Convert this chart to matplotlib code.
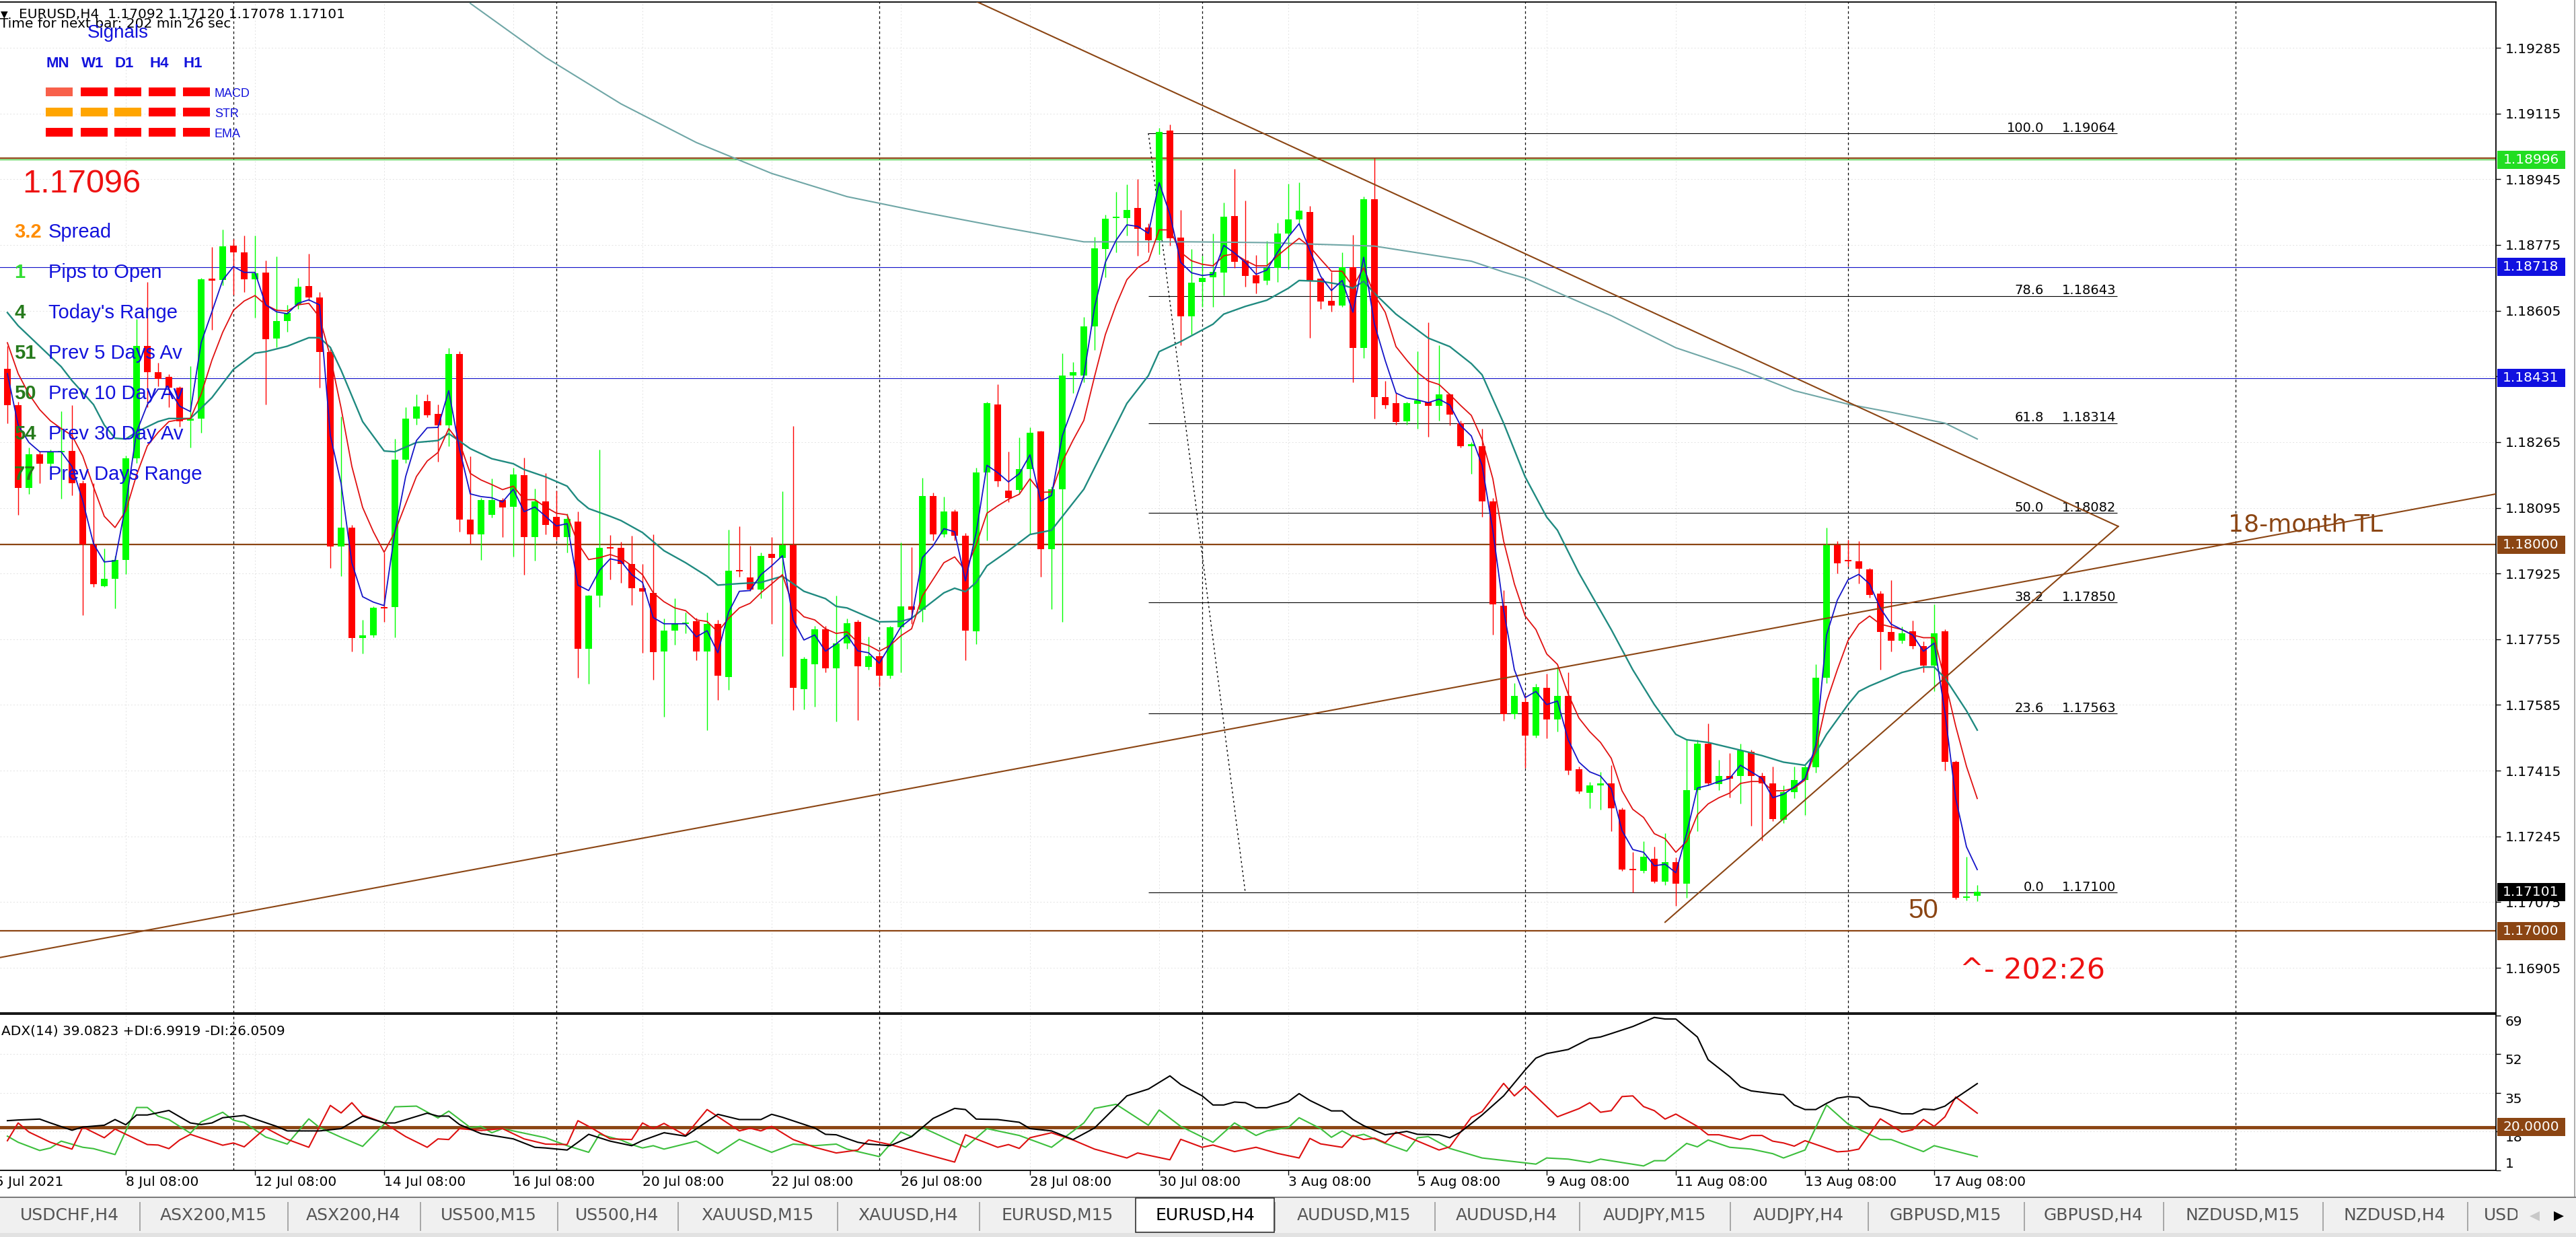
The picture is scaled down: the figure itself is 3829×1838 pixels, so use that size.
import numpy as np
import matplotlib
matplotlib.use("Agg")
import matplotlib.pyplot as plt
import matplotlib.transforms as mtransforms
from matplotlib.patches import Rectangle

W, H, DPI = 3829, 1838, 100

# ---------------- data ----------------
# candle prices are kept as pips above 1.17000 (EURUSD H4, 184 bars)
BASE = 1.17
PIP = 0.0001

open_pips = [
    145.4, 136.0, 114.7, 123.3, 120.9, 123.8, 124.2, 115.8, 100.1, 89.3,
    91.1, 96.0, 122.3, 151.3, 144.5, 143.3, 140.6, 132.0, 132.6, 168.6,
    168.4, 177.3, 175.5, 168.6, 170.4, 153.3, 157.8, 162.0, 166.8, 163.9,
    149.8, 99.5, 104.4, 75.8, 76.5, 83.8, 83.8, 122.0, 132.6, 137.1,
    133.8, 130.9, 149.3, 106.4, 102.7, 107.6, 111.5, 109.7, 118.0, 101.9,
    111.2, 107.2, 102.0, 106.0, 73.1, 86.7, 99.2, 99.2, 95.0, 88.7,
    87.5, 72.4, 77.8, 79.4, 80.1, 72.4, 79.5, 65.8, 93.2, 91.4,
    88.3, 97.6, 96.5, 99.9, 62.5, 69.0, 78.0, 67.9, 74.5, 80.0,
    68.3, 71.2, 66.1, 78.6, 84.0, 83.1, 112.5, 102.7, 108.6, 102.3,
    77.6, 118.6, 136.2, 114.0, 114.1, 119.5, 129.3, 98.8, 114.3, 143.7,
    143.7, 156.4, 176.5, 184.4, 184.5, 187.0, 182.0, 178.7, 207.0, 179.4,
    159.0, 168.0, 169.1, 170.3, 185.0, 173.4, 169.6, 168.3, 171.6, 180.5,
    184.1, 186.0, 168.7, 163.0, 161.9, 171.8, 150.8, 189.4, 138.1, 136.5,
    131.9, 136.4, 137.0, 135.9, 138.8, 131.4, 125.5, 125.5, 111.2, 84.2,
    56.2, 59.2, 50.6, 63.0, 54.7, 60.9, 41.9, 35.7, 37.7, 38.2,
    31.5, 16.0, 15.5, 18.7, 12.8, 17.9, 12.3, 36.4, 48.4, 38.1,
    40.1, 40.1, 46.4, 40.1, 38.2, 28.8, 35.9, 39.1, 42.3, 65.5,
    99.8, 95.8, 95.6, 93.5, 87.3, 77.3, 75.2, 77.6, 73.8, 68.7,
    77.6, 43.7, 8.6, 9.2]

high_pips = [
    151.3, 137.0, 125.0, 124.0, 124.5, 134.4, 136.0, 116.5, 115.8, 99.0,
    97.0, 123.0, 158.4, 168.0, 147.0, 144.0, 141.0, 146.1, 169.0, 177.0,
    181.5, 179.0, 180.0, 179.9, 173.5, 174.6, 162.0, 169.0, 175.3, 165.3,
    151.0, 133.1, 105.0, 80.5, 84.0, 98.0, 127.3, 135.5, 138.9, 138.9,
    136.2, 150.9, 150.0, 122.9, 112.0, 117.0, 112.0, 119.8, 122.5, 114.5,
    118.4, 113.9, 108.0, 108.5, 87.0, 124.6, 102.5, 100.7, 102.3, 94.9,
    102.7, 80.9, 86.0, 82.5, 81.0, 82.5, 80.5, 103.8, 104.8, 99.6,
    98.0, 101.9, 113.7, 130.6, 71.0, 79.0, 79.0, 86.7, 80.9, 80.5,
    76.1, 72.0, 79.0, 100.5, 99.4, 117.3, 113.4, 112.4, 109.0, 103.0,
    119.8, 136.9, 141.4, 124.0, 127.7, 130.3, 129.5, 115.0, 149.4, 147.2,
    158.9, 179.6, 185.4, 191.2, 193.1, 194.5, 183.0, 207.8, 208.7, 186.5,
    176.5, 174.7, 180.5, 188.5, 197.1, 188.9, 174.9, 178.5, 183.2, 193.4,
    193.6, 187.6, 169.0, 170.5, 175.6, 180.1, 190.0, 200.0, 142.3, 139.2,
    137.0, 149.9, 157.4, 151.5, 139.0, 132.0, 126.5, 129.9, 112.0, 88.1,
    64.1, 61.0, 64.0, 66.5, 68.3, 66.9, 42.5, 38.5, 41.2, 42.9,
    32.0, 20.4, 23.2, 21.8, 25.3, 19.0, 49.5, 49.5, 53.7, 44.3,
    46.1, 48.4, 47.0, 41.0, 42.6, 37.7, 42.6, 43.0, 69.0, 104.4,
    100.9, 101.2, 100.9, 94.0, 88.0, 90.8, 78.7, 80.4, 75.0, 84.5,
    78.0, 44.2, 19.3, 12.0]

low_pips = [
    131.4, 107.6, 113.0, 115.8, 120.0, 111.8, 112.7, 81.8, 89.1, 89.0,
    83.4, 92.4, 121.0, 135.5, 141.0, 135.5, 130.5, 125.1, 129.0, 155.6,
    167.0, 164.6, 165.3, 158.6, 136.2, 151.0, 155.0, 161.0, 163.0, 140.6,
    94.0, 91.8, 72.3, 71.8, 76.0, 80.0, 76.0, 121.0, 131.0, 133.0,
    121.4, 125.5, 103.3, 100.2, 96.0, 107.0, 102.0, 96.8, 92.2, 95.9,
    102.7, 101.1, 98.0, 65.5, 64.0, 83.8, 91.0, 90.1, 84.4, 72.0,
    65.0, 55.4, 74.1, 77.0, 70.0, 52.0, 59.8, 62.4, 91.6, 88.0,
    86.0, 79.4, 71.2, 57.2, 57.4, 58.0, 67.0, 54.3, 73.0, 54.6,
    67.7, 63.2, 65.4, 67.0, 79.4, 80.0, 101.0, 102.0, 101.0, 70.0,
    74.3, 101.0, 115.0, 111.0, 113.0, 102.8, 91.7, 83.3, 80.0, 139.2,
    142.0, 150.3, 169.2, 175.6, 180.0, 174.7, 175.6, 175.0, 177.4, 151.6,
    154.3, 161.4, 161.4, 164.5, 171.6, 166.7, 165.0, 167.2, 168.0, 171.2,
    183.0, 153.4, 161.0, 160.3, 161.4, 141.9, 148.3, 132.6, 135.2, 131.0,
    131.0, 129.9, 127.8, 132.1, 130.8, 125.0, 118.3, 107.2, 76.6, 54.4,
    55.0, 42.2, 50.0, 49.8, 51.6, 40.5, 35.6, 31.8, 31.5, 25.9,
    15.5, 10.0, 15.0, 12.4, 12.0, 6.5, 8.6, 25.9, 37.7, 36.4,
    34.5, 32.9, 27.3, 23.4, 28.5, 28.0, 34.3, 30.1, 41.0, 64.1,
    92.6, 94.2, 90.0, 86.3, 67.6, 72.4, 74.5, 73.0, 66.9, 62.0,
    41.5, 8.2, 8.0, 7.8]

close_pips = [
    136.0, 114.7, 123.3, 120.9, 123.8, 124.2, 115.8, 100.1, 89.8, 91.1,
    96.0, 122.3, 151.3, 144.5, 142.9, 140.6, 131.8, 132.6, 168.6, 168.3,
    177.2, 175.5, 168.6, 170.2, 153.1, 157.8, 159.9, 166.7, 163.9, 149.8,
    99.5, 104.4, 75.8, 76.5, 83.6, 83.4, 122.0, 132.6, 135.7, 133.5,
    130.9, 149.3, 106.4, 102.7, 111.5, 111.5, 109.6, 118.2, 101.9, 111.2,
    105.0, 102.0, 106.6, 73.1, 86.7, 99.2, 99.0, 94.9, 88.7, 87.9,
    72.2, 77.8, 79.4, 79.8, 72.4, 79.5, 66.0, 93.2, 93.0, 88.3,
    97.1, 96.6, 99.9, 62.9, 70.4, 78.0, 67.9, 74.5, 79.7, 68.5,
    71.2, 66.1, 78.6, 84.0, 83.1, 112.5, 102.7, 108.6, 102.3, 77.8,
    118.6, 136.5, 116.4, 112.0, 119.5, 129.0, 98.8, 114.3, 143.7, 144.5,
    156.4, 176.7, 184.3, 184.7, 186.6, 181.7, 178.7, 206.7, 179.2, 159.0,
    167.8, 169.0, 170.6, 184.8, 173.2, 169.4, 167.5, 171.6, 180.5, 184.1,
    186.3, 168.3, 162.9, 161.9, 171.8, 150.9, 189.4, 138.1, 136.1, 131.7,
    136.5, 137.3, 135.8, 138.8, 133.7, 125.4, 125.8, 111.2, 84.6, 56.2,
    60.9, 50.6, 63.1, 54.7, 60.9, 41.6, 36.1, 37.7, 38.2, 31.8,
    16.0, 15.7, 19.3, 12.8, 17.9, 12.3, 36.4, 48.4, 38.2, 40.1,
    39.5, 46.8, 40.1, 38.2, 29.0, 35.9, 39.1, 42.3, 65.5, 99.8,
    95.1, 95.6, 93.7, 87.0, 77.3, 75.2, 77.0, 73.8, 68.7, 77.0,
    43.7, 8.6, 8.9, 10.1]

# moving averages (pips above 1.17000)
ma_fast_pips = [
    144.2, 130.9, 126.4, 124.0, 124.0, 124.0, 120.2, 111.3, 100.2, 95.5,
    95.8, 110.4, 129.1, 136.2, 140.2, 140.2, 135.8, 134.4, 152.2, 160.2,
    168.4, 171.9, 170.4, 170.4, 162.0, 160.2, 159.7, 162.4, 163.3, 162.0,
    128.2, 115.8, 95.3, 86.5, 85.1, 84.2, 103.3, 117.6, 126.9, 130.2,
    130.3, 139.8, 124.7, 113.1, 112.4, 112.1, 111.0, 114.3, 108.5, 109.7,
    107.3, 104.8, 105.4, 89.5, 88.1, 93.3, 96.3, 95.7, 92.2, 90.2,
    81.1, 79.5, 79.5, 79.5, 76.1, 77.7, 72.0, 82.5, 87.9, 88.1,
    92.2, 94.5, 97.1, 80.5, 75.3, 76.6, 72.4, 74.3, 76.6, 72.5,
    72.0, 69.3, 73.9, 78.7, 80.9, 96.6, 99.7, 104.1, 103.3, 90.6,
    103.1, 120.5, 118.6, 116.2, 118.3, 123.2, 111.2, 112.7, 128.1, 135.7,
    143.7, 161.4, 173.0, 178.7, 182.7, 182.3, 180.5, 193.6, 185.4, 173.0,
    170.3, 169.6, 169.9, 177.4, 175.4, 173.0, 169.9, 171.0, 175.6, 179.6,
    183.0, 176.1, 169.4, 165.7, 168.3, 160.1, 174.3, 157.0, 147.6, 139.2,
    137.9, 137.4, 136.7, 137.6, 136.1, 130.8, 128.1, 120.5, 103.6, 83.0,
    67.6, 60.4, 62.0, 58.6, 59.5, 49.5, 43.7, 41.2, 40.1, 36.8,
    26.0, 21.1, 20.4, 16.9, 17.3, 15.1, 25.2, 37.0, 37.7, 38.7,
    39.5, 42.9, 41.2, 39.5, 34.5, 35.4, 37.3, 39.5, 48.1, 76.6,
    85.6, 90.9, 92.3, 89.8, 83.5, 79.4, 78.0, 76.6, 72.4, 74.5,
    56.5, 34.3, 21.8, 15.9]

ma_mid_pips = [
    152.2, 144.2, 138.9, 134.9, 132.0, 130.0, 128.2, 122.9, 114.9, 107.3,
    104.4, 108.7, 118.0, 125.5, 129.0, 131.8, 132.3, 132.6, 138.9, 147.7,
    154.9, 160.6, 163.0, 164.4, 162.0, 160.6, 160.4, 162.0, 162.4, 158.8,
    148.6, 135.3, 120.2, 109.6, 103.3, 98.0, 103.3, 110.5, 117.6, 121.6,
    123.8, 130.0, 126.4, 118.4, 116.7, 115.5, 114.2, 115.1, 111.6, 111.6,
    109.7, 108.1, 107.7, 100.3, 96.1, 96.6, 97.4, 96.5, 94.5, 92.2,
    87.5, 85.2, 83.6, 82.9, 80.5, 80.1, 77.4, 80.9, 83.6, 84.8,
    87.5, 89.8, 92.2, 84.0, 81.3, 80.5, 78.2, 77.0, 77.4, 74.7,
    73.9, 72.4, 73.9, 76.4, 78.2, 86.7, 91.0, 95.3, 96.8, 93.3,
    99.9, 108.1, 110.0, 111.7, 113.0, 117.0, 113.5, 113.6, 121.4, 127.0,
    132.1, 143.5, 154.3, 162.0, 168.5, 171.6, 173.4, 181.4, 181.4, 175.6,
    173.4, 172.5, 172.1, 174.7, 175.2, 173.5, 172.1, 172.1, 174.7, 177.0,
    179.2, 177.0, 173.8, 170.7, 170.7, 166.7, 171.6, 164.5, 160.1, 151.2,
    147.7, 144.5, 142.3, 141.4, 138.8, 136.0, 133.4, 127.2, 117.0, 100.9,
    89.8, 81.5, 78.0, 71.7, 69.0, 61.3, 55.1, 51.6, 48.8, 44.7,
    36.3, 31.5, 29.4, 25.2, 23.9, 20.4, 23.2, 30.1, 32.9, 34.5,
    35.7, 38.2, 38.7, 38.7, 36.3, 36.3, 37.0, 39.1, 46.8, 59.3,
    67.6, 75.2, 79.4, 81.5, 79.4, 78.7, 78.0, 76.6, 75.9, 75.9,
    64.8, 53.0, 42.6, 34.3]

ma_slow_bars = [0, 1, 3, 5, 6, 8, 9, 10, 11, 12, 14, 15, 17, 19, 21, 23, 24, 26, 28, 29,
                30, 31, 33, 35, 36, 38, 40, 41, 43, 45, 47, 48, 50, 52, 53, 54, 56, 57, 59, 61,
                63, 65, 66, 68, 70, 71, 72, 74, 76, 77, 78, 81, 83, 84, 85, 87, 88, 89, 90, 91,
                93, 95, 97, 100, 104, 106, 107, 109, 112, 113, 115, 117, 119, 120, 122, 124, 125, 126, 127, 129,
                132, 134, 136, 137, 139, 141, 143, 144, 146, 149, 151, 153, 155, 156, 158, 161, 163, 165, 167, 168,
                169, 171, 172, 173, 176, 178, 179, 180, 182, 183]
ma_slow_pips = [160.0, 156.6, 151.3, 146.0, 142.4, 136.2, 130.9, 127.5, 127.3, 129.1, 131.8, 132.6, 132.6, 138.0, 145.3, 149.5, 149.9, 151.3, 153.5, 153.5,
                151.0, 145.1, 131.8, 124.2, 124.0, 126.4, 126.9, 128.7, 124.8, 122.2, 120.9, 119.4, 117.5, 115.1, 111.6, 109.3, 107.3, 106.2, 103.1, 98.4,
                95.3, 91.8, 89.5, 89.9, 90.2, 91.0, 91.8, 87.9, 86.0, 84.0, 83.6, 80.0, 80.1, 80.9, 83.2, 87.5, 88.7, 87.8, 90.2, 94.5,
                98.4, 102.6, 103.7, 114.3, 136.5, 143.7, 149.9, 152.5, 157.0, 159.6, 161.6, 163.2, 166.3, 168.3, 168.1, 167.2, 166.3, 168.1, 165.0, 159.6,
                153.4, 151.2, 146.8, 143.9, 131.4, 117.5, 107.1, 103.7, 92.6, 78.0, 67.6, 58.6, 50.9, 49.5, 48.8, 46.8, 45.4, 43.7, 42.9, 46.1,
                50.9, 58.6, 62.0, 63.4, 66.9, 68.3, 68.3, 65.5, 57.0, 52.0]

ma_long_bars = [43, 50, 57, 64, 71, 78, 85, 92, 100, 110, 117, 127, 136, 139, 141, 145, 149, 155, 161, 166, 171, 175, 180, 183]
ma_long_pips = [240.0, 226.0, 214.0, 204.0, 196.0, 190.0, 186.0, 182.3, 178.3, 178.3, 178.1, 177.2, 173.3, 170.5, 168.9, 164.0,
                159.2, 150.9, 145.3, 139.8, 136.3, 134.2, 131.4, 127.3]

# horizontal levels
round_levels = [1.19000, 1.18000, 1.17000]
bid_level = 1.18996
blue_levels = [1.18718, 1.18431]
last_price = 1.17101

# fibonacci retracement
fib_pct = [100.0, 78.6, 61.8, 50.0, 38.2, 23.6, 0.0]
fib_price = [1.19064, 1.18643, 1.18314, 1.18082, 1.17850, 1.17563, 1.17100]
fib_start_bar, fib_end_bar = 106, 196
fib_anchor_bars = [106, 115]

# trendlines: (bar, price) endpoints
tl_down = [(90.0, 1.19405), (196.1, 1.18047)]
tl_long = [(-1.0, 1.16930), (232.0, 1.18135)]
tl_short = [(154.0, 1.17023), (196.1, 1.18047)]

# ADX(14) panel, (bar, value) vertices
adx_bars = [0, 1, 3, 4, 6, 7, 9, 10, 11, 12, 13, 15, 17, 18, 19, 20, 22, 25, 26, 29,
            31, 33, 35, 36, 39, 40, 41, 42, 44, 47, 49, 50, 52, 53, 54, 56, 58, 59, 61, 63,
            66, 68, 70, 71, 72, 75, 76, 77, 79, 80, 82, 84, 86, 88, 89, 90, 92, 94, 95, 97,
            99, 101, 104, 106, 108, 109, 111, 112, 113, 114, 115, 116, 117, 119, 120, 121, 123, 124, 125, 126,
            128, 129, 130, 131, 133, 134, 135, 137, 139, 141, 142, 143, 145, 147, 148, 149, 151, 153, 154, 155,
            157, 158, 160, 161, 162, 164, 165, 166, 167, 168, 169, 170, 171, 172, 173, 174, 176, 177, 178, 179,
            180, 181, 183]
adx_vals = [22.8, 23.1, 23.5, 21.8, 18.6, 20.0, 20.8, 23.3, 21.0, 25.3, 25.3, 27.3, 21.8, 21.1, 21.8, 24.1, 25.1, 20.3, 18.3, 18.3,
            19.3, 24.8, 21.8, 21.8, 26.1, 24.8, 24.8, 21.1, 17.1, 14.8, 11.1, 10.8, 9.9, 13.3, 16.8, 13.8, 11.8, 14.1, 17.5, 16.0,
            25.6, 23.3, 23.3, 25.6, 24.3, 19.6, 16.8, 16.6, 13.3, 12.5, 11.8, 15.8, 23.8, 28.2, 27.7, 23.5, 23.3, 22.1, 19.3, 18.3,
            14.5, 19.6, 33.7, 36.7, 42.5, 38.7, 33.7, 29.7, 29.7, 31.0, 30.7, 28.5, 28.5, 31.2, 34.7, 31.7, 27.1, 27.1, 23.3, 20.6,
            16.6, 17.3, 18.1, 16.8, 16.6, 15.3, 17.8, 25.3, 33.7, 45.1, 50.3, 52.3, 54.1, 58.9, 59.6, 61.1, 64.2, 68.2, 67.5, 67.5,
            59.6, 49.6, 42.2, 37.7, 35.9, 34.7, 34.2, 29.7, 27.7, 27.7, 30.4, 32.7, 33.4, 33.0, 29.2, 28.4, 25.8, 25.8, 27.9, 27.6,
            29.2, 32.7, 39.1]

plus_di_bars = [0, 1, 3, 4, 5, 7, 8, 10, 12, 13, 14, 15, 17, 18, 20, 21, 22, 24, 26, 28,
                29, 31, 33, 35, 36, 38, 40, 41, 43, 44, 45, 46, 48, 50, 52, 54, 55, 57, 58, 59,
                60, 61, 64, 66, 68, 71, 73, 75, 77, 78, 81, 83, 84, 85, 89, 91, 94, 97, 100, 101,
                103, 106, 107, 109, 112, 114, 116, 117, 119, 120, 122, 123, 124, 125, 126, 128, 130, 131, 132, 134,
                137, 142, 143, 145, 147, 148, 150, 152, 153, 154, 156, 157, 158, 160, 162, 164, 165, 167, 169, 171,
                174, 175, 178, 179, 183]
plus_di_vals = [16.0, 13.3, 9.7, 10.8, 13.8, 11.1, 10.5, 7.9, 28.6, 28.6, 24.8, 23.3, 17.3, 22.3, 26.5, 23.0, 22.0, 15.6, 12.5, 23.6,
                19.8, 15.5, 11.5, 21.3, 28.9, 29.2, 24.0, 27.0, 19.8, 20.3, 17.5, 19.3, 17.3, 15.3, 11.8, 8.9, 16.8, 14.3, 12.3, 10.8,
                11.8, 10.3, 13.8, 8.4, 14.6, 8.9, 12.5, 11.8, 12.5, 10.3, 7.0, 17.8, 15.8, 19.8, 11.1, 19.3, 16.3, 11.1, 21.8, 28.2,
                30.0, 20.8, 27.5, 20.3, 13.3, 21.8, 16.3, 18.3, 19.8, 24.1, 19.3, 15.5, 18.3, 15.8, 16.8, 12.8, 9.4, 15.3, 15.8, 10.6,
                6.4, 3.7, 6.4, 5.9, 4.4, 5.9, 4.4, 2.9, 5.2, 5.2, 12.8, 11.3, 14.3, 11.1, 10.3, 8.3, 6.4, 9.9, 29.7, 21.3,
                14.5, 14.5, 9.2, 11.8, 7.0]

minus_di_bars = [0, 1, 2, 4, 6, 7, 9, 10, 13, 14, 15, 16, 17, 20, 21, 22, 24, 26, 28, 30,
                 31, 32, 33, 35, 37, 39, 40, 41, 42, 44, 46, 48, 50, 52, 53, 54, 56, 58, 59, 60,
                 61, 63, 65, 68, 69, 70, 71, 73, 74, 75, 77, 79, 80, 82, 88, 89, 92, 93, 94, 95,
                 97, 99, 101, 104, 105, 108, 109, 111, 112, 114, 116, 118, 120, 121, 122, 124, 125, 126, 127, 128,
                 129, 133, 134, 136, 137, 139, 140, 141, 144, 146, 147, 148, 149, 150, 151, 152, 153, 154, 155, 157,
                 158, 159, 161, 162, 163, 164, 165, 166, 167, 170, 171, 172, 174, 176, 177, 178, 179, 180, 181, 183]
minus_di_vals = [14.0, 21.8, 17.8, 13.3, 10.3, 20.0, 15.3, 19.1, 12.3, 12.1, 10.5, 14.3, 16.8, 12.0, 13.0, 11.3, 19.6, 14.6, 11.1, 29.5,
                 26.2, 30.7, 25.3, 21.8, 15.8, 11.1, 14.8, 14.5, 19.3, 18.5, 19.3, 14.8, 12.5, 12.3, 22.8, 20.3, 14.8, 14.5, 21.8, 19.3,
                 21.6, 16.3, 27.7, 18.3, 19.5, 18.3, 20.3, 14.5, 12.8, 11.1, 8.6, 9.9, 14.3, 12.3, 4.6, 16.6, 11.1, 12.3, 10.6, 15.3,
                 17.5, 14.3, 10.3, 6.4, 8.6, 5.6, 14.6, 11.1, 12.1, 9.2, 11.1, 8.4, 6.4, 15.0, 12.6, 11.1, 16.3, 14.5, 15.1, 13.1,
                 17.8, 9.9, 11.3, 24.3, 26.8, 39.2, 33.7, 38.0, 24.5, 28.1, 30.7, 26.5, 27.2, 33.4, 33.7, 29.0, 27.2, 23.5, 25.7, 20.3,
                 16.6, 16.6, 14.5, 16.3, 16.3, 13.8, 13.0, 11.6, 14.0, 9.1, 9.4, 10.3, 23.6, 17.8, 18.8, 23.3, 20.3, 24.5, 33.2, 26.1]

# time axis and grid
week_bars = [21, 51, 81, 111, 141, 171, 207]
time_bars = [11, 23, 35, 47, 59, 71, 83, 95, 107, 119, 131, 143, 155, 167, 179]
time_labels = ["8 Jul 08:00", "12 Jul 08:00", "14 Jul 08:00", "16 Jul 08:00", "20 Jul 08:00",
               "22 Jul 08:00", "26 Jul 08:00", "28 Jul 08:00", "30 Jul 08:00", "3 Aug 08:00",
               "5 Aug 08:00", "9 Aug 08:00", "11 Aug 08:00", "13 Aug 08:00", "17 Aug 08:00"]
price_ticks = [1.19285, 1.19115, 1.18945, 1.18775, 1.18605, 1.18435, 1.18265, 1.18095,
               1.17925, 1.17755, 1.17585, 1.17415, 1.17245, 1.17075, 1.16905]
adx_ticks = [69, 52, 35, 18, 1]

# info panel
info_values = ["3.2", "1", "4", "51", "50", "54", "77"]
info_labels = ["Spread", "Pips to Open", "Today's Range", "Prev 5 Days Av",
               "Prev 10 Day Av", "Prev 30 Day Av", "Prev Days Range"]
signal_frames = ["MN", "W1", "D1", "H4", "H1"]
signal_rows = ["MACD", "STR", "EMA"]
signal_colors = [["#f8604a", "#ff0000", "#ff0000", "#ff0000", "#ff0000"],
                 ["#ffa500", "#ffa500", "#ffa500", "#ff0000", "#ff0000"],
                 ["#ff0000", "#ff0000", "#ff0000", "#ff0000", "#ff0000"]]

tab_names = ["USDCHF,H4", "ASX200,M15", "ASX200,H4", "US500,M15", "US500,H4", "XAUUSD,M15",
             "XAUUSD,H4", "EURUSD,M15", "EURUSD,H4", "AUDUSD,M15", "AUDUSD,H4", "AUDJPY,M15",
             "AUDJPY,H4", "GBPUSD,M15", "GBPUSD,H4", "NZDUSD,M15", "NZDUSD,H4"]
tab_edges = [0, 207, 427, 624, 828, 1007, 1244, 1455, 1688, 1894, 2132, 2347, 2571,
             2776, 3008, 3215, 3452, 3667]
active_tab = "EURUSD,H4"

# ---------------- colours ----------------
BROWN = "#8b4513"
BLUE_TXT = "#1212dc"
UP, DOWN = "#00ff00", "#ff0000"


def fx(x):
    return x / W


def fy(y):
    return 1 - y / H


def rect_px(x, y_top, w, h, **kw):
    r = Rectangle((x, H - y_top - h), w, h, transform=mtransforms.IdentityTransform(), **kw)
    fig.add_artist(r)
    return r


plt.rcParams['font.family'] = 'DejaVu Sans'
fig = plt.figure(figsize=(W / DPI, H / DPI), dpi=DPI)
fig.patch.set_facecolor("white")

ax = fig.add_axes([0, fy(1505), fx(3710), (1505 - 3) / H])
adx = fig.add_axes([0, fy(1739), fx(3710), (1739 - 1507) / H])

XLIM = (-0.6875, 231.1875)

# ---------------- main chart ----------------
bars = np.arange(len(close_pips))
o = BASE + np.array(open_pips) * PIP
hi = BASE + np.array(high_pips) * PIP
lo = BASE + np.array(low_pips) * PIP
c = BASE + np.array(close_pips) * PIP
cols = np.where(c >= o, UP, DOWN)

for p in price_ticks:
    ax.axhline(p, color="#e2e2e2", lw=0.7, ls=(0, (2, 3)), zorder=0)
for b in time_bars:
    ax.axvline(b, color="#e2e2e2", lw=0.7, ls=(0, (2, 3)), zorder=0)
for b in week_bars:
    ax.axvline(b, color="black", lw=0.9, ls=(0, (3, 3)), zorder=1)

for lvl in round_levels:
    ax.axhline(lvl, color=BROWN, lw=1.6, zorder=1)
ax.axhline(bid_level, color="#33cc33", lw=0.9, zorder=1)
for lvl in blue_levels:
    ax.axhline(lvl, color="#1010c8", lw=0.8, zorder=1)

ax.hlines(fib_price, fib_start_bar, fib_end_bar, color="black", lw=0.8, zorder=1)
ax.plot(fib_anchor_bars, [fib_price[0], fib_price[-1]], color="black", lw=1.0,
        ls=(0, (2, 3)), zorder=1)
for pct, pr in zip(fib_pct, fib_price):
    ax.text(189.2, pr + 0.00004, f"{pct:.1f}", ha="right", va="baseline", fontsize=14, zorder=2)
    ax.text(195.9, pr + 0.00004, f"{pr:.5f}", ha="right", va="baseline", fontsize=14, zorder=2)

ax.vlines(bars, lo, hi, colors=cols, lw=1.0, zorder=3)
ax.bar(bars, np.maximum(np.abs(c - o), 0.00004), bottom=np.minimum(o, c), width=0.66,
       color=cols, linewidth=0, zorder=4)

ax.plot(ma_long_bars, BASE + np.array(ma_long_pips) * PIP, color="#6fa6a6", lw=1.5, zorder=5)
ax.plot(ma_slow_bars, BASE + np.array(ma_slow_pips) * PIP, color="#1f8a80", lw=1.7, zorder=5)
ax.plot(bars, BASE + np.array(ma_mid_pips) * PIP, color="#e01010", lw=1.3, zorder=6)
ax.plot(bars, BASE + np.array(ma_fast_pips) * PIP, color="#1414c8", lw=1.3, zorder=7)

for tl in (tl_down, tl_long, tl_short):
    ax.plot([tl[0][0], tl[1][0]], [tl[0][1], tl[1][1]], color=BROWN, lw=1.5, zorder=5)

ax.text(206.3, 1.18052, "18-month TL", color=BROWN, fontsize=26, ha="left", va="center", zorder=8)
ax.text(178.0, 1.17053, "50", color=BROWN, fontsize=29, family="Liberation Sans",
        ha="center", va="center", zorder=8)
ax.text(181.4, 1.16898, "^- 202:26", color="#ee1111", fontsize=31, ha="left", va="center", zorder=8)

ax.set_xlim(*XLIM)
ax.set_ylim(1.167884, 1.194034)
ax.yaxis.tick_right()
ax.set_yticks(price_ticks)
ax.set_yticklabels([f"{p:.5f}" for p in price_ticks])
ax.tick_params(axis="y", direction="out", length=5, width=1, pad=5, labelsize=14.5)
ax.set_xticks([])
ax.spines["left"].set_visible(False)
for s in ("top", "right", "bottom"):
    ax.spines[s].set_linewidth(1.3)

# ---------------- ADX panel ----------------
for v in [52, 35, 18]:
    adx.axhline(v, color="#e2e2e2", lw=0.7, ls=(0, (2, 3)), zorder=0)
for b in time_bars:
    adx.axvline(b, color="#e2e2e2", lw=0.7, ls=(0, (2, 3)), zorder=0)
for b in week_bars:
    adx.axvline(b, color="black", lw=0.9, ls=(0, (3, 3)), zorder=1)
adx.axhline(20, color=BROWN, lw=3.5, zorder=2)
adx.plot(plus_di_bars, plus_di_vals, color="#3cbf3c", lw=1.5, zorder=3)
adx.plot(minus_di_bars, minus_di_vals, color="#dd0f0f", lw=1.5, zorder=4)
adx.plot(adx_bars, adx_vals, color="black", lw=1.5, zorder=5)

adx.set_xlim(*XLIM)
adx.set_ylim(0.95, 69.6)
adx.yaxis.tick_right()
adx.set_yticks(adx_ticks)
adx.set_yticklabels([str(t) for t in adx_ticks])
adx.tick_params(axis="y", direction="out", length=5, width=1, pad=5, labelsize=14.5)
for lab, t in zip(adx.get_yticklabels(), adx_ticks):
    lab.set_va("bottom" if t == 1 else "top")
adx.set_xticks(time_bars)
adx.tick_params(axis="x", direction="out", length=5, width=1, labelbottom=False)
adx.spines["left"].set_visible(False)
for s in ("top", "right", "bottom"):
    adx.spines[s].set_linewidth(1.3)

tx = mtransforms.blended_transform_factory(adx.transData, fig.transFigure)
for b, t in zip(time_bars, time_labels):
    fig.text(b, fy(1747), t, transform=tx, ha="left", va="top", fontsize=14.5)
fig.text(fx(-7), fy(1747), "5 Jul 2021", ha="left", va="top", fontsize=14.5)
fig.text(fx(2), fy(1537), "ADX(14) 39.0823 +DI:6.9919 -DI:26.0509", fontsize=14.5, va="baseline")


# ---------------- axis value boxes ----------------
def value_box(axis, value, label, face):
    y = axis.transData.transform((0, value))[1]
    fig.add_artist(Rectangle((3712, y - 13.5), 101, 27, transform=mtransforms.IdentityTransform(),
                             facecolor=face, edgecolor="none", zorder=5))
    fig.text(3762 / W, y / H, label, color="white", fontsize=14.5, ha="center", va="center", zorder=6)


value_box(ax, bid_level, f"{bid_level:.5f}", "#22dd22")
for lvl in blue_levels:
    value_box(ax, lvl, f"{lvl:.5f}", "#1010e0")
value_box(ax, round_levels[1], f"{round_levels[1]:.5f}", BROWN)
value_box(ax, last_price, f"{last_price:.5f}", "black")
value_box(ax, round_levels[2], f"{round_levels[2]:.5f}", BROWN)
value_box(adx, 20, "20.0000", BROWN)

# ---------------- header & info panel ----------------
fig.text(fx(1), fy(25), "\u25bc", fontsize=10, va="baseline")
fig.text(fx(28), fy(27), "EURUSD,H4  1.17092 1.17120 1.17078 1.17101", fontsize=14.5, va="baseline")
fig.text(fx(0), fy(41), "Time for next bar: 202 min 26 sec", fontsize=14.5, va="baseline")
fig.text(fx(130), fy(56), "Signals", family="Liberation Sans", fontsize=20, color=BLUE_TXT, va="baseline")

col_x = [68, 120, 170, 221, 272]
row_y = [130, 160, 190]
for xx, name in zip(col_x, signal_frames):
    fig.text(fx(xx + 1), fy(100), name, family="Liberation Sans", fontweight="bold",
             fontsize=16, color=BLUE_TXT, va="baseline")
for r, (yy, name) in enumerate(zip(row_y, signal_rows)):
    for k, xx in enumerate(col_x):
        rect_px(xx, yy, 40, 13, facecolor=signal_colors[r][k], edgecolor="none")
    fig.text(fx(319), fy(yy + 14), name, family="Liberation Sans", fontsize=13,
             color=BLUE_TXT, va="baseline")

fig.text(fx(33), fy(286), "1.17096", family="Liberation Sans", fontsize=35,
         color="#ee1111", va="baseline")

val_colors = ["#ff8c00", "#33dd33", "#267a1c", "#267a1c", "#267a1c", "#267a1c", "#267a1c"]
for k, (v, lab) in enumerate(zip(info_values, info_labels)):
    yb = 353 + 60 * k
    fig.text(fx(21), fy(yb), v, family="Liberation Sans", fontweight="bold", fontsize=21,
             color=val_colors[k], va="baseline")
    fig.text(fx(72), fy(yb), lab, family="Liberation Sans", fontsize=21, color=BLUE_TXT,
             va="baseline")

# ---------------- tab bar ----------------
rect_px(3826, 0, 2, 1780, facecolor="#b0b0b0", edgecolor="none")
rect_px(0, 1779, W, 59, facecolor="#f0f0f0", edgecolor="none")
rect_px(0, 1778, W, 2, facecolor="#7a7a7a", edgecolor="none")
rect_px(0, 1832, W, 6, facecolor="#e2e2e2", edgecolor="none")
for e in tab_edges[1:]:
    rect_px(e, 1786, 1.5, 43, facecolor="#a8a8a8", edgecolor="none")
for k, name in enumerate(tab_names):
    x0, x1 = tab_edges[k], tab_edges[k + 1]
    if name == active_tab:
        rect_px(x0, 1780, x1 - x0, 51, facecolor="white", edgecolor="#303030", linewidth=1.2)
    fig.text(fx((x0 + x1) / 2), fy(1806), name, fontsize=18, ha="center", va="center",
             color="black" if name == active_tab else "#555555")
fig.text(fx(3692), fy(1806), "USDCAD,H4", fontsize=18, ha="left", va="center", color="#555555")
rect_px(3742, 1781, 87, 50, facecolor="#f0f0f0", edgecolor="none", zorder=5)
fig.text(fx(3760), fy(1806), "\u25c0", fontsize=14, color="#c8c8c8", va="center", zorder=6)
fig.text(fx(3796), fy(1806), "\u25b6", fontsize=14, color="black", va="center", zorder=6)

fig.savefig("out.png", dpi=DPI, facecolor="white")
